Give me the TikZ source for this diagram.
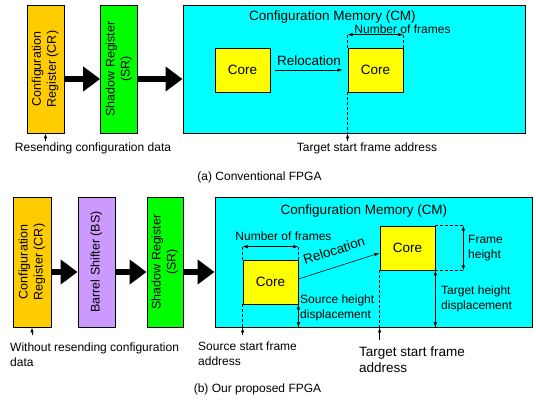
\documentclass[tikz,border=0pt]{standalone}
\usepackage{fontspec}
\setmainfont{Liberation Sans}
\usepackage{graphicx}
\usetikzlibrary{arrows.meta,calc}
\definecolor{crOrange}{HTML}{FFCC00}
\definecolor{srGreen}{HTML}{00FF00}
\definecolor{bsPurple}{HTML}{CC99FF}
\definecolor{cmCyan}{HTML}{00FFFF}
\definecolor{coreYellow}{HTML}{FFFF00}
\newcommand{\notefont}{\fontsize{12}{15}\selectfont}
\newcommand{\regfont}{\fontsize{12.5}{15}\selectfont}
\newcommand{\headfont}{\fontsize{13.5}{16}\selectfont}
\newcommand{\vtext}[1]{\rotatebox{90}{\begin{tabular}{@{}c@{}}#1\end{tabular}}}

\begin{document}
\begin{tikzpicture}[x=1pt, y=-1pt,
  every node/.style={font=\notefont, inner sep=0pt},
  reg/.style={draw, line width=0.8pt, minimum width=37pt, minimum height=128pt, font=\regfont},
  mem/.style={draw, line width=0.9pt, fill=cmCyan},
  core/.style={draw, line width=0.8pt, fill=coreYellow, minimum width=55pt, minimum height=44pt, font=\headfont},
  bus/.style={-{Triangle[length=17pt,width=24pt]}, line width=6pt},
  tick/.style={-{Latex[length=5pt,width=3.5pt]}, line width=0.6pt},
  dim/.style={{Latex[length=5pt,width=3.5pt]}-{Latex[length=5pt,width=3.5pt]}, line width=0.6pt},
  guide/.style={line width=0.8pt, dash pattern=on 3pt off 2pt},
  note/.style={align=left, anchor=west},
]
\useasboundingbox (0,0) rectangle (536,403);

% (a) Conventional FPGA
\node[reg, fill=crOrange] (cr1) at (45.5,69) {\vtext{Configuration\\Register (CR)}};
\node[reg, fill=srGreen] (sr1) at (119,69) {\vtext{Shadow Register\\(SR)}};
\node[mem, minimum width=342pt, minimum height=128pt] (cm1) at (354,69) {};
\node[font=\headfont] (cmt1) at (332.5,17) {Configuration Memory (CM)};
\node[core] (src1) at (242.5,70) {Core};
\node[core] (dst1) at (375.5,70) {Core};

\draw[bus] ([yshift=-10pt]cr1.east) -- ([yshift=-10pt]sr1.west);
\draw[bus] ([yshift=-10pt]sr1.east) -- ([yshift=-10pt]cm1.west);

\draw[tick] ([xshift=5pt]src1.east) -- ([xshift=-5pt]dst1.west)
  node[midway, above=4pt, font=\headfont] (rel1) {Relocation};

% number of frames
\draw[guide] (dst1.north west) -- ++(0,-15);
\draw[guide] (dst1.north east) -- ++(0,-15);
\draw[dim] ([yshift=13pt]dst1.north west) -- ([yshift=13pt]dst1.north east);
\node (nf1) at (402.5,29) {Number of frames};

% start frame address
\draw[guide] (dst1.south west) -- (dst1.south west |- cm1.south);
\node (tgt1) at (367,148.5) {Target start frame address};
\coordinate (tgtp1) at ($(dst1.south west |- cm1.south)+(0,8)$);
\draw[tick] (tgtp1) -- (dst1.south west |- cm1.south);

\node (res1) at (93,148) {Resending configuration data};
\coordinate (resp1) at ($(cr1.south)+(0,8)$);
\draw[tick] (resp1) -- (cr1.south);

\node (cap1) at (259.5,177.5) {(a) Conventional FPGA};

% (b) Our proposed FPGA
\node[reg, fill=crOrange, minimum width=38pt, minimum height=130pt] (cr2) at (32,262) {\vtext{Configuration\\Register (CR)}};
\node[reg, fill=bsPurple, minimum height=130pt] (bs2) at (96.5,262) {\vtext{Barrel Shifter (BS)}};
\node[reg, fill=srGreen, minimum width=36pt, minimum height=130pt] (sr2) at (165,262) {\vtext{Shadow Register\\(SR)}};
\node[mem, minimum width=317pt, minimum height=130pt] (cm2) at (373.5,262) {};
\node[font=\headfont] (cmt2) at (364,211.5) {Configuration Memory (CM)};
\node[core] (src2) at (270.5,282) {Core};
\node[core] (dst2) at (407.5,248) {Core};

\draw[bus] ([yshift=-10pt]cr2.east) -- ([yshift=-10pt]bs2.west);
\draw[bus] ([yshift=-10pt]bs2.east) -- ([yshift=-10pt]sr2.west);
\draw[bus] ([yshift=-10pt]sr2.east) -- ([yshift=-10pt]cm2.west);

\draw[tick] ([yshift=3pt]src2.east) -- ([yshift=-5pt]dst2.west)
  node[midway, sloped, above=11pt, font=\headfont] (rel2) {Relocation};

% number of frames
\draw[guide] (src2.north west) -- ++(0,-13);
\draw[guide] (src2.north east) -- ++(0,-13);
\draw[dim] ([yshift=13pt]src2.north west) -- ([yshift=13pt]src2.north east);
\node (nf2) at (283.5,236) {Number of frames};

% frame height
\draw[guide] (dst2.north east) -- ++(28,0);
\draw[guide] (dst2.south east) -- ++(28,0);
\draw[dim] ([xshift=28pt]dst2.north east) -- ([xshift=28pt]dst2.south east);
\node[note] (fh2) at (468,248) {Frame\\height};

% height displacements
\draw[dim] (dst2.south east) -- (dst2.south east |- cm2.south);
\node[note] (thd2) at (441,299) {Target height\\displacement};
\draw[dim] (src2.south east) -- (src2.south east |- cm2.south);
\node[note] (shd2) at (300,308) {Source height\\displacement};

% start frame addresses
\draw[guide] (src2.south west) -- (src2.south west |- cm2.south);
\draw[guide] (dst2.south west) -- (dst2.south west |- cm2.south);
\coordinate (ssap2) at ($(src2.south west |- cm2.south)+(0,8)$);
\draw[tick] (ssap2) -- (src2.south west |- cm2.south);
\node[note] (ssa2) at (198,353.5) {Source start frame\\address};
\coordinate (tsap2) at ($(dst2.south west |- cm2.south)+(0,13)$);
\draw[tick] (tsap2) -- (dst2.south west |- cm2.south);
\node[note, font=\headfont] (tsa2) at (359,359.5) {Target start frame\\address};

\coordinate (resp2) at ($(cr2.south)+(0,8)$);
\draw[tick] (resp2) -- (cr2.south);
\node[note] (res2) at (10,355) {Without resending configuration\\data};

\node (cap2) at (257.5,389) {(b) Our proposed FPGA};

\end{tikzpicture}
\end{document}
